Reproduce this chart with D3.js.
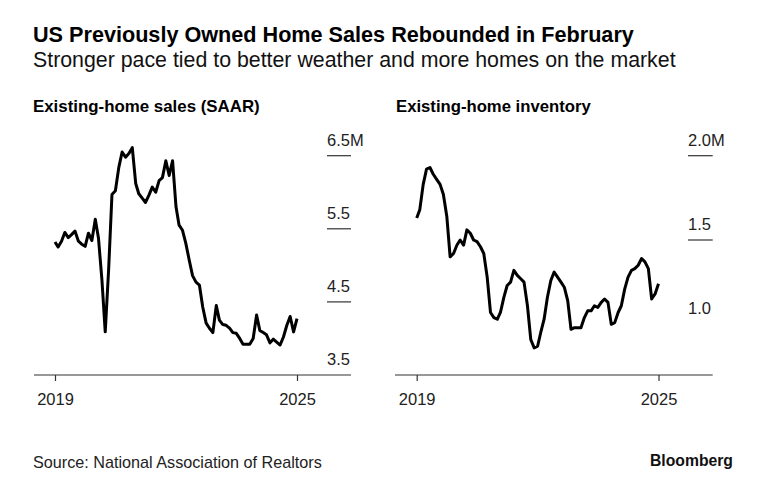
<!DOCTYPE html>
<html>
<head>
<meta charset="utf-8">
<script src="https://cdn.jsdelivr.net/npm/d3@7/dist/d3.min.js"></script>
<style>
  html, body { margin: 0; padding: 0; background: #fff; }
  svg { display: block; font-family: "Liberation Sans", Arial, Helvetica, sans-serif; }
</style>
</head>
<body>
<svg id="chart" width="761" height="496"></svg>
<script>
// ---- Data (monthly, Feb 2019 – Feb 2025) ----
const startMonth = "2019-02";
const endMonth = "2025-02";

// Existing-home sales, SAAR, millions
const salesValues = [
  5.32, 5.25, 5.33, 5.45, 5.38, 5.42, 5.47, 5.33, 5.29, 5.26, 5.44,
  5.34, 5.63, 5.37, 4.80, 4.09, 4.95, 5.97, 6.02, 6.34, 6.55, 6.48, 6.53,
  6.61, 6.12, 5.98, 5.92, 5.86, 5.96, 6.07, 6.00, 6.16, 6.20, 6.43, 6.23,
  6.43, 5.80, 5.55, 5.48, 5.30, 5.07, 4.86, 4.77, 4.73, 4.43, 4.21, 4.14,
  4.08, 4.45, 4.25, 4.19, 4.18, 4.14, 4.08, 4.07, 4.00, 3.92, 3.92, 3.92,
  4.00, 4.32, 4.11, 4.08, 4.05, 3.94, 3.99, 3.95, 3.91, 4.02, 4.18, 4.30,
  4.09, 4.27
];

// Existing-home inventory, millions
const inventoryValues = [
  1.63, 1.68, 1.83, 1.92, 1.93, 1.89, 1.86, 1.83, 1.77, 1.64, 1.40,
  1.42, 1.47, 1.50, 1.47, 1.56, 1.54, 1.50, 1.49, 1.46, 1.42, 1.28, 1.07,
  1.04, 1.03, 1.07, 1.16, 1.23, 1.25, 1.32, 1.29, 1.27, 1.25, 1.11, 0.91,
  0.86, 0.87, 0.95, 1.03, 1.16, 1.26, 1.31, 1.28, 1.25, 1.22, 1.14, 0.97,
  0.98, 0.98, 0.98, 1.04, 1.08, 1.08, 1.11, 1.10, 1.13, 1.15, 1.13, 1.00,
  1.01, 1.07, 1.11, 1.21, 1.28, 1.32, 1.33, 1.35, 1.39, 1.37, 1.33, 1.15,
  1.18, 1.24
];

const salesTicks = [3.5, 4.5, 5.5, 6.5];
const salesTickLabels = ["3.5", "4.5", "5.5", "6.5M"];
const inventoryTicks = [1.0, 1.5, 2.0];
const inventoryTickLabels = ["1.0", "1.5", "2.0M"];
const inventoryGridTicks = [1.5, 2.0];
const xTickLabels = ["2019", "2025"];

const titleText = "US Previously Owned Home Sales Rebounded in February";
const subtitleText = "Stronger pace tied to better weather and more homes on the market";
const leftTitle = "Existing-home sales (SAAR)";
const rightTitle = "Existing-home inventory";
const sourceText = "Source: National Association of Realtors";
const brandText = "Bloomberg";

// ---- Build ----
const parseM = d3.timeParse("%Y-%m");
const months = d3.timeMonth.range(parseM(startMonth), d3.timeMonth.offset(parseM(endMonth), 1));
const svg = d3.select("#chart");

function fitText(sel, targetW) {
  const node = sel.node();
  const fs = parseFloat(sel.attr("font-size"));
  const w = node.getComputedTextLength();
  sel.attr("font-size", (fs * targetW / w).toFixed(2));
  return sel;
}

fitText(svg.append("text").attr("x", 33).attr("y", 42).attr("font-size", 21)
  .attr("font-weight", "bold").attr("fill", "#000").text(titleText), 601);
fitText(svg.append("text").attr("x", 33).attr("y", 67).attr("font-size", 20)
  .attr("fill", "#111").text(subtitleText), 643);

function panel(cfg) {
  const g = svg.append("g");
  const data = months.map((d, i) => ({ date: d, value: cfg.values[i] }));
  const x = d3.scaleTime().domain([months[0], months[months.length - 1]]).range(cfg.xRange);
  const y = d3.scaleLinear().domain(cfg.yDomain).range(cfg.yRange);

  // Panel title
  fitText(g.append("text").attr("x", cfg.titleX).attr("y", 112).attr("font-size", 16)
    .attr("font-weight", "bold").attr("fill", "#000").text(cfg.title), cfg.titleW);

  // Right-hand value labels and short gridlines
  cfg.ticks.forEach((t, i) => {
    g.append("text").attr("x", cfg.gridX[0]).attr("y", y(t) - 10)
      .attr("font-size", 16.5).attr("fill", "#222").text(cfg.tickLabels[i]);
  });
  g.selectAll(".grid").data(cfg.gridTicks).join("line")
    .attr("x1", cfg.gridX[0]).attr("x2", cfg.gridX[1])
    .attr("y1", d => y(d)).attr("y2", d => y(d))
    .attr("stroke", "#333").attr("stroke-width", 1.2);

  // x axis
  const axisG = g.append("g").attr("transform", `translate(0,${cfg.baseline})`);
  axisG.append("line").attr("x1", cfg.axisX[0]).attr("x2", cfg.axisX[1])
    .attr("stroke", "#333").attr("stroke-width", 1.2);
  const axis = d3.axisBottom(x)
    .tickValues([months[0], months[months.length - 1]])
    .tickFormat((d, i) => xTickLabels[i])
    .tickSize(6).tickSizeOuter(0).tickPadding(12);
  const ax = axisG.append("g").call(axis);
  ax.select(".domain").remove();
  ax.selectAll(".tick line").attr("stroke", "#333").attr("stroke-width", 1.2);
  ax.selectAll(".tick text").attr("font-size", 16.5).attr("fill", "#222")
    .attr("font-family", "Liberation Sans, Arial, sans-serif");

  // line
  const line = d3.line().x(d => x(d.date)).y(d => y(d.value));
  g.append("path").datum(data).attr("d", line)
    .attr("fill", "none").attr("stroke", "#000").attr("stroke-width", 3)
    .attr("stroke-linejoin", "round").attr("stroke-linecap", "butt");
}

panel({
  values: salesValues, title: leftTitle, titleX: 33, titleW: 227,
  xRange: [55, 297], yDomain: [3.5, 6.5], yRange: [375, 155.7],
  ticks: salesTicks, tickLabels: salesTickLabels, gridTicks: salesTicks.slice(1),
  gridX: [327, 351], axisX: [34, 351], baseline: 375
});
panel({
  values: inventoryValues, title: rightTitle, titleX: 396, titleW: 195,
  xRange: [416.7, 658.5], yDomain: [1.0, 2.0], yRange: [324.3, 155.7],
  ticks: inventoryTicks, tickLabels: inventoryTickLabels, gridTicks: inventoryGridTicks,
  gridX: [688, 712.7], axisX: [395, 712.7], baseline: 375
});

fitText(svg.append("text").attr("x", 33).attr("y", 468).attr("font-size", 15)
  .attr("fill", "#222").text(sourceText), 289);
fitText(svg.append("text").attr("x", 650).attr("y", 466).attr("font-size", 16)
  .attr("font-weight", "bold").attr("fill", "#111").text(brandText), 83);
</script>
</body>
</html>
